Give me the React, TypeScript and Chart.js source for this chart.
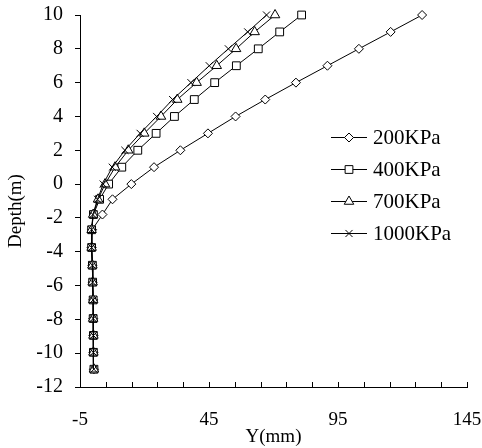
import React, { useEffect, useRef } from 'react';
import { Chart, registerables } from 'chart.js';
import { drawPoint } from 'chart.js/helpers';

Chart.register(...registerables);

const depths = [10, 9, 8, 7, 6, 5, 4, 3, 2, 1, 0, -0.9, -1.8, -2.7, -3.75, -4.8, -5.8, -6.85, -7.95, -8.95, -9.95, -10.95];
const y200 = [127.6, 115.4, 103.1, 90.9, 78.7, 66.8, 55.3, 44.6, 33.9, 23.7, 14.9, 7.6, 3.7, -0.3, -0.5, -0.2, -0.1, 0.1, 0.1, 0.2, 0.2, 0.4];
const y400 = [80.9, 72.4, 64.1, 55.6, 47.2, 39.3, 31.6, 24.5, 17.4, 11.2, 6.1, 2.6, 0.2, -0.5, -0.5, -0.2, -0.1, 0.1, 0.1, 0.2, 0.2, 0.4];
const y700 = [70.6, 62.7, 55.5, 48.0, 40.2, 32.7, 26.4, 19.9, 13.7, 8.6, 4.7, 2.0, 0.1, -0.5, -0.5, -0.2, -0.1, 0.1, 0.1, 0.2, 0.2, 0.4];
const y1000 = [67.3, 60.0, 52.5, 45.1, 38.0, 30.9, 24.7, 18.3, 12.4, 7.5, 4.0, 1.8, 0.0, -0.5, -0.5, -0.2, -0.1, 0.1, 0.1, 0.2, 0.2, 0.4];

const seriesLabels = ['200KPa', '400KPa', '700KPa', '1000KPa'];
const seriesValues = [y200, y400, y700, y1000];
const pointStyles = ['rectRot', 'rect', 'triangle', 'crossRot'];
const pointRadii = [4.5, 5.5, 5.5, 5];

const xTitle = 'Y(mm)';
const yTitle = 'Depth(m)';
const xMin = -5;
const xMax = 145;
const xStep = 10;
const xLabelStep = 50;
const yMin = -12;
const yMax = 10;
const yStep = 2;

const W = 482;
const H = 448;
const FONT = "'Liberation Serif', 'Times New Roman', serif";

const innerTicksPlugin = {
  id: 'innerTicks',
  afterDraw(chart: any) {
    const ctx = chart.ctx;
    const xs = chart.scales.x;
    const bottom = chart.chartArea.bottom;
    ctx.save();
    ctx.strokeStyle = '#000';
    ctx.lineWidth = 1;
    ctx.beginPath();
    xs.ticks.forEach((t: any) => {
      const px = Math.round(xs.getPixelForValue(t.value)) + 0.5;
      ctx.moveTo(px, bottom);
      ctx.lineTo(px, bottom - 5);
    });
    ctx.stroke();
    ctx.restore();
  },
};

const yTitlePlugin = {
  id: 'yTitle',
  afterDraw(chart: any) {
    const ctx = chart.ctx;
    const area = chart.chartArea;
    ctx.save();
    ctx.translate(16, (area.top + area.bottom) / 2 + 10);
    ctx.rotate(-Math.PI / 2);
    ctx.font = `19px ${FONT}`;
    ctx.fillStyle = '#000';
    ctx.textAlign = 'center';
    ctx.textBaseline = 'middle';
    ctx.fillText(yTitle, 0, 0);
    ctx.restore();
  },
};

const legendPlugin = {
  id: 'customLegend',
  afterDraw(chart: any) {
    const ctx = chart.ctx;
    const area = chart.chartArea;
    const x0 = area.left + 251;
    const y0 = area.top + 122;
    ctx.save();
    ctx.font = `21px ${FONT}`;
    ctx.textBaseline = 'middle';
    ctx.textAlign = 'left';
    chart.data.datasets.forEach((ds: any, i: number) => {
      const y = y0 + i * 32;
      ctx.strokeStyle = '#000';
      ctx.lineWidth = 1;
      ctx.beginPath();
      ctx.moveTo(x0, y + 0.5);
      ctx.lineTo(x0 + 36, y + 0.5);
      ctx.stroke();
      ctx.fillStyle = '#fff';
      ctx.strokeStyle = '#000';
      drawPoint(ctx, { pointStyle: ds.pointStyle, radius: ds.pointRadius, borderWidth: 1, rotation: 0 } as any, x0 + 18, y + 0.5);
      ctx.fillStyle = '#000';
      ctx.fillText(ds.label, x0 + 42, y + 1);
    });
    ctx.restore();
  },
};

export default function App() {
  const ref = useRef<HTMLCanvasElement | null>(null);
  useEffect(() => {
    if (!ref.current) return;
    const datasets = seriesLabels.map((label, i) => ({
      label,
      data: depths.map((d, j) => ({ x: seriesValues[i][j], y: d })),
      showLine: true,
      borderColor: '#000',
      borderWidth: 1,
      backgroundColor: '#fff',
      pointStyle: pointStyles[i],
      pointRadius: pointRadii[i],
      pointBorderColor: '#000',
      pointBackgroundColor: '#fff',
      pointBorderWidth: 1,
      tension: 0,
      clip: false as any,
      order: 3 - i,
    }));
    const chart = new Chart(ref.current, {
      type: 'scatter',
      data: { datasets },
      plugins: [innerTicksPlugin, yTitlePlugin, legendPlugin],
      options: {
        animation: false,
        responsive: false,
        devicePixelRatio: 1,
        layout: { padding: { top: 15, right: 15, left: 0, bottom: 0 } },
        plugins: { legend: { display: false }, tooltip: { enabled: false } },
        scales: {
          x: {
            type: 'linear',
            min: xMin,
            max: xMax,
            afterFit: (s: any) => {
              s.height = 61;
              s.paddingLeft = 0;
              s.paddingRight = 0;
            },
            ticks: {
              stepSize: xStep,
              autoSkip: false,
              maxRotation: 0,
              padding: 14,
              color: '#000',
              font: { family: FONT, size: 19 },
              callback: (v: any) => (((v - xMin) % xLabelStep) === 0 ? String(v) : ''),
            },
            grid: { display: false },
            border: { display: true, color: '#000', width: 1 },
            title: { display: true, text: xTitle, color: '#000', font: { family: FONT, size: 19 }, padding: { top: 0, bottom: 0 } },
          },
          y: {
            type: 'linear',
            min: yMin,
            max: yMax,
            afterFit: (s: any) => {
              s.width = 80;
              s.paddingTop = 0;
              s.paddingBottom = 0;
            },
            ticks: {
              stepSize: yStep,
              padding: 12,
              color: '#000',
              font: { family: FONT, size: 20 },
            },
            grid: { display: true, drawOnChartArea: false, drawTicks: true, tickLength: 5, color: '#000', tickColor: '#000', lineWidth: 1 },
            border: { display: true, color: '#000', width: 1 },
            title: { display: false },
          },
        },
      },
    });
    return () => chart.destroy();
  }, []);
  return (
    <div style={{ position: 'absolute', left: 0, top: 0, width: W, height: H, overflow: 'hidden', background: '#fff' }}>
      <canvas ref={ref} width={W} height={H} style={{ display: 'block', width: W, height: H }} />
    </div>
  );
}
